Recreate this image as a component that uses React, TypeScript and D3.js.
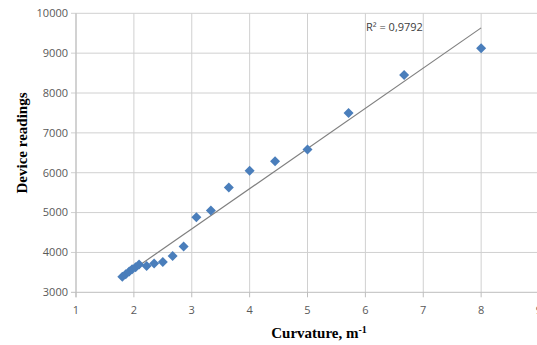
import React from "react";
import * as d3 from "d3";

// curvature (1/m) and device readings
const curvature = [
  1.8, 1.86, 1.92, 1.97, 2.03, 2.09, 2.22, 2.35, 2.5, 2.67, 2.86, 3.08, 3.33,
  3.64, 4.0, 4.44, 5.0, 5.71, 6.67, 8.0,
];
const readings = [
  3390, 3450, 3520, 3580, 3630, 3700, 3660, 3720, 3760, 3910, 4150, 4880, 5050,
  5630, 6050, 6290, 6580, 7500, 8450, 9120,
];
const xTicks = [1, 2, 3, 4, 5, 6, 7, 8, 9];
const yTicks = [3000, 4000, 5000, 6000, 7000, 8000, 9000, 10000];
const r2Label = "R² = 0,9792";

const W = 537;
const H = 345;
const margin = { top: 13.3, right: -2, bottom: 52.7, left: 76 };

export default function App() {
  const x = d3
    .scaleLinear()
    .domain([1, 9])
    .range([margin.left, W - margin.right]);
  const y = d3
    .scaleLinear()
    .domain([3000, 10000])
    .range([H - margin.bottom, margin.top]);

  // least squares trend line
  const mx = d3.mean(curvature) ?? 0;
  const my = d3.mean(readings) ?? 0;
  let sxy = 0;
  let sxx = 0;
  curvature.forEach((c, i) => {
    sxy += (c - mx) * (readings[i] - my);
    sxx += (c - mx) * (c - mx);
  });
  const slope = sxy / sxx;
  const icpt = my - slope * mx;
  const [x0, x1] = d3.extent(curvature) as [number, number];
  const trend = d3.line<number>()
    .x((d) => x(d))
    .y((d) => y(icpt + slope * d))([x0, x1]);

  const diamond = d3.symbol(d3.symbolSquare, 50)();
  const tickFont = "'Open Sans', 'Liberation Sans', sans-serif";

  return (
    <svg
      width={W}
      height={H}
      style={{ position: "absolute", left: 0, top: 0, background: "#fff" }}
    >
      {/* grid */}
      {xTicks.map((t) => (
        <line
          key={"gx" + t}
          x1={x(t)}
          x2={x(t)}
          y1={y(10000)}
          y2={y(3000)}
          stroke="#d0d0d0"
          strokeWidth={1}
        />
      ))}
      {yTicks.map((t) => (
        <line
          key={"gy" + t}
          x1={x(1) - 5}
          x2={x(9)}
          y1={y(t)}
          y2={y(t)}
          stroke={t === 3000 ? "#bdbdbd" : "#d0d0d0"}
          strokeWidth={1}
        />
      ))}
      <line x1={x(1)} x2={x(1)} y1={y(10000)} y2={y(3000) + 5} stroke="#bdbdbd" />
      {xTicks.map((t) => (
        <line
          key={"tx" + t}
          x1={x(t)}
          x2={x(t)}
          y1={y(3000)}
          y2={y(3000) + 5}
          stroke="#bdbdbd"
        />
      ))}

      {/* tick labels */}
      {yTicks.map((t) => (
        <text
          key={"ly" + t}
          x={x(1) - 8}
          y={y(t)}
          dy="0.35em"
          textAnchor="end"
          fontFamily={tickFont}
          fontSize={11}
          fill="#595959"
        >
          {t}
        </text>
      ))}
      {xTicks.map((t) => (
        <text
          key={"lx" + t}
          x={x(t)}
          y={y(3000) + 18}
          dy="0.35em"
          textAnchor="middle"
          fontFamily={tickFont}
          fontSize={11}
          fill="#595959"
        >
          {t}
        </text>
      ))}

      {/* trend */}
      <path d={trend ?? ""} fill="none" stroke="#7f7f7f" strokeWidth={1.2} />

      {/* points */}
      {curvature.map((c, i) => (
        <path
          key={"p" + i}
          d={diamond ?? ""}
          transform={`translate(${x(c)},${y(readings[i])}) rotate(45)`}
          fill="#4a7ebb"
        />
      ))}

      <text
        x={366}
        y={27}
        dy="0.35em"
        fontFamily={tickFont}
        fontSize={11}
        fill="#404040"
      >
        {r2Label}
      </text>

      {/* axis titles */}
      <text
        transform={`translate(22,${143}) rotate(-90)`}
        textAnchor="middle"
        dy="0.35em"
        fontFamily="'Liberation Serif', 'DejaVu Serif', serif"
        fontWeight="bold"
        fontSize={15}
        fill="#000"
      >
        Device readings
      </text>
      <text
        x={319}
        y={333}
        dy="0.35em"
        textAnchor="middle"
        fontFamily="'Liberation Serif', 'DejaVu Serif', serif"
        fontWeight="bold"
        fontSize={15}
        fill="#000"
      >
        Curvature, m<tspan dy="-5" fontSize={10}>-1</tspan>
      </text>
    </svg>
  );
}
